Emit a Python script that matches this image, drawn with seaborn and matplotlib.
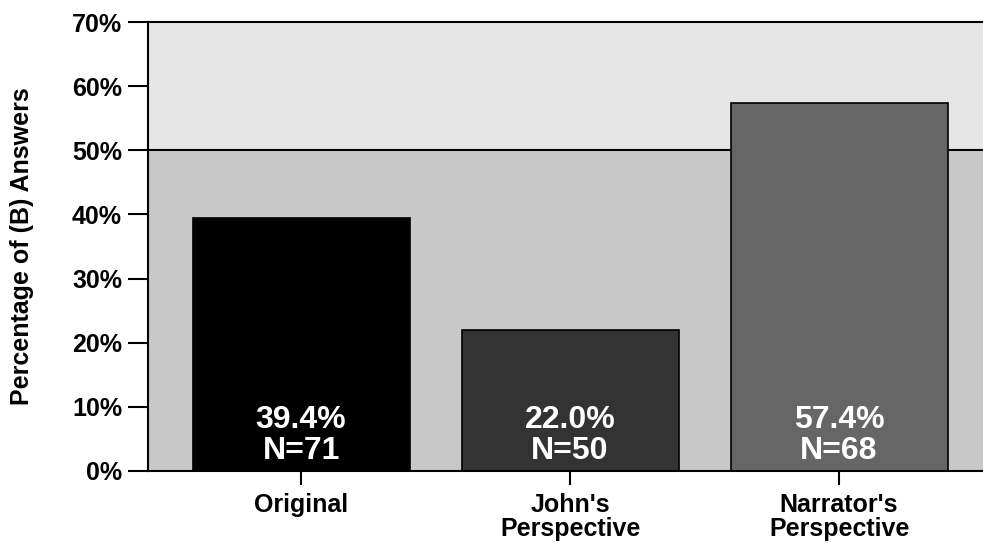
import matplotlib
matplotlib.use('Agg')
import matplotlib.pyplot as plt
import seaborn as sns
import pandas as pd

categories = ['Original', "John's\nPerspective", "Narrator's\nPerspective"]
percentages = [39.4, 22.0, 57.4]
counts = [71, 50, 68]
bar_colors = ['#000000', '#333333', '#666666']

sns.set_style('white')
plt.rcParams['font.family'] = ['Liberation Sans', 'DejaVu Sans']
plt.rcParams['font.weight'] = 'bold'
plt.rcParams['text.color'] = 'black'
plt.rcParams['axes.labelcolor'] = 'black'
plt.rcParams['xtick.color'] = 'black'
plt.rcParams['ytick.color'] = 'black'

df = pd.DataFrame({'Condition': categories, 'Percent': percentages})

fig = plt.figure(figsize=(9.83, 5.43), dpi=100)
ax = fig.add_axes([148 / 983, 1 - 471 / 543, 1 - 148 / 983, (471 - 22) / 543])

# two-tone background split at 50%
ax.axhspan(0, 50, color='#c8c8c8', zorder=0)
ax.axhspan(50, 70, color='#e6e6e6', zorder=0)
ax.axhline(50, color='black', lw=1.5, zorder=1)

sns.barplot(df, x='Condition', y='Percent', hue='Condition', palette=bar_colors,
            legend=False, width=0.807, edgecolor='black', linewidth=1.2, saturation=1,
            ax=ax, zorder=2)

for i, (p, n) in enumerate(zip(percentages, counts)):
    ax.text(i, 5.55, f'{p:.1f}%\nN={n}', ha='center', va='center', color='white',
            fontsize=23, fontweight='bold', linespacing=1.05, zorder=3)

ax.set_xlim(-0.569, 2.535)
ax.set_ylim(0, 70)
ax.set_yticks(range(0, 71, 10))
ax.set_yticklabels([f'{v}%' for v in range(0, 71, 10)])
ax.set_xlabel('')
ax.set_ylabel('Percentage of (B) Answers', fontsize=18, fontweight='bold', labelpad=27.5)
ax.tick_params(axis='y', direction='out', length=14.4, width=1.5, labelsize=18, left=True, pad=4.3)
ax.tick_params(axis='x', direction='out', length=10, width=1.5, labelsize=18, bottom=True, pad=5.8)
for lab in ax.get_xticklabels() + ax.get_yticklabels():
    lab.set_fontweight('bold')
    lab.set_linespacing(1.0)

for side in ['left', 'bottom', 'top']:
    ax.spines[side].set_linewidth(1.5)
    ax.spines[side].set_color('black')
ax.spines['right'].set_visible(False)

fig.savefig('out.png', dpi=100)
